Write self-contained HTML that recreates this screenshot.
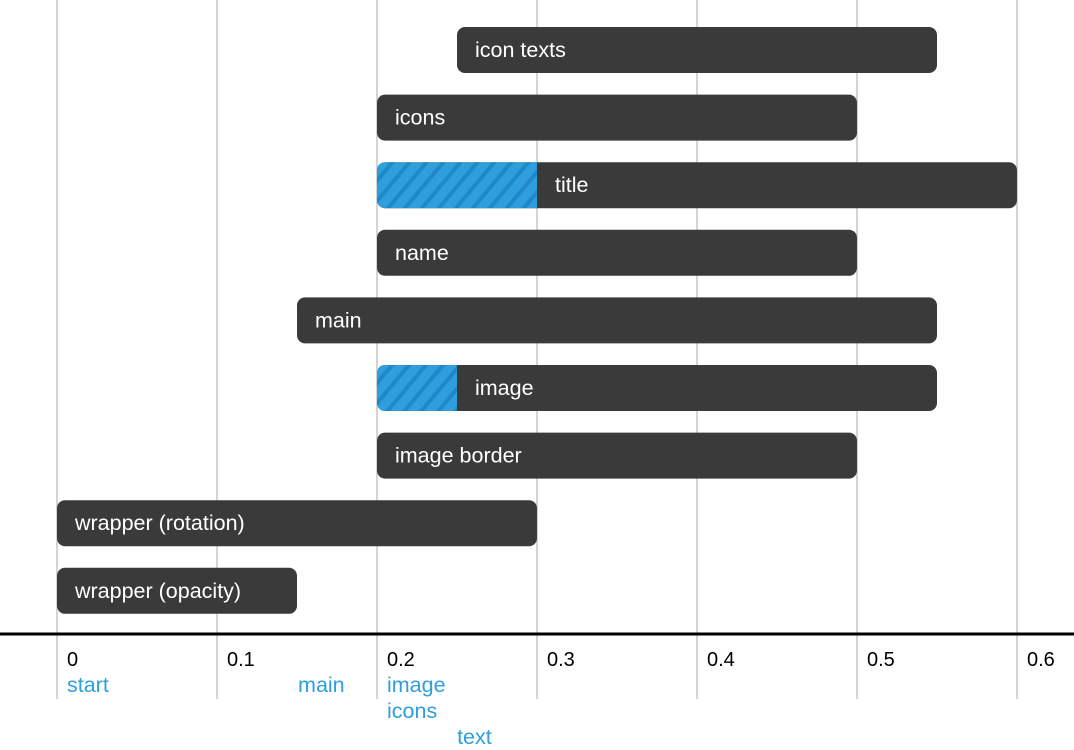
<!DOCTYPE html>
<html><head><meta charset="utf-8"><style>
html,body{margin:0;padding:0;background:#fff;}
svg{display:block;font-family:"Liberation Sans",sans-serif;}
</style></head><body>
<svg id="chart" width="1074" height="750" viewBox="0 0 1074 750">
<defs>
<pattern id="hatch" patternUnits="userSpaceOnUse" width="13" height="13" patternTransform="rotate(40)">
<rect width="13" height="13" fill="#2e9fdc"/>
<rect width="4" height="13" fill="#1f88c8"/>
</pattern>
</defs>
<g id="grid"></g>
<g id="bars"></g>
<g id="axis"></g>
</svg>
<script>
const ticks=[0,0.1,0.2,0.3,0.4,0.5,0.6];
const tickLabels=["0","0.1","0.2","0.3","0.4","0.5","0.6"];
const names=["icon texts","icons","title","name","main","image","image border","wrapper (rotation)","wrapper (opacity)"];
const starts=[0.25,0.2,0.2,0.2,0.15,0.2,0.2,0,0];
const ends=[0.55,0.5,0.6,0.5,0.55,0.55,0.5,0.3,0.15];
const hatchEnds=[null,null,0.3,null,null,0.25,null,null,null];
const markerNames=["start","main","image","icons","text"];
const markerValues=[0,0.1444,0.2,0.2,0.2438];
const markerRows=[0,0,0,1,2];
const NS="http://www.w3.org/2000/svg";
const x=v=>57+1600*v;
const y=i=>27+i*67.6;
function mk(t,a,p){const e=document.createElementNS(NS,t);for(const k in a)e.setAttribute(k,a[k]);p.appendChild(e);return e;}
const g=document.getElementById('grid'),b=document.getElementById('bars'),ax=document.getElementById('axis');
ticks.forEach((t,i)=>{
const l=mk('line',{x1:x(t),x2:x(t),y1:0,y2:699,stroke:'#d4d4d4','stroke-width':2},g);


const tx=mk('text',{x:x(t)+10,y:666,'font-size':20,fill:'#000'},ax);
tx.textContent=tickLabels[i];


});
const al=mk('line',{x1:0,x2:1074,y1:634,y2:634,stroke:'#000','stroke-width':3},ax);


names.forEach((n,i)=>{
const r=mk('rect',{x:x(starts[i]),y:y(i),width:x(ends[i])-x(starts[i]),height:46,rx:8,fill:'#3a3a3a'},b);


let lx=x(starts[i])+18;
if(hatchEnds[i]!==null){
const cp=mk('clipPath',{id:'c'+i},b);
mk('rect',{x:x(starts[i]),y:y(i),width:x(ends[i])-x(starts[i]),height:46,rx:8},cp);
const h=mk('rect',{x:x(starts[i]),y:y(i),width:x(hatchEnds[i])-x(starts[i]),height:46,fill:'url(#hatch)','clip-path':'url(#c'+i+')'},b);


lx=x(hatchEnds[i])+18;
}
const t=mk('text',{x:lx,y:y(i)+30,'font-size':21.5,fill:'#fff'},b);
t.textContent=n;


});
markerNames.forEach((n,i)=>{
const t=mk('text',{x:x(markerValues[i])+10,y:692+markerRows[i]*26,'font-size':21.5,fill:'#2e9fdc'},ax);
t.textContent=n;


});
</script>
</body></html>
